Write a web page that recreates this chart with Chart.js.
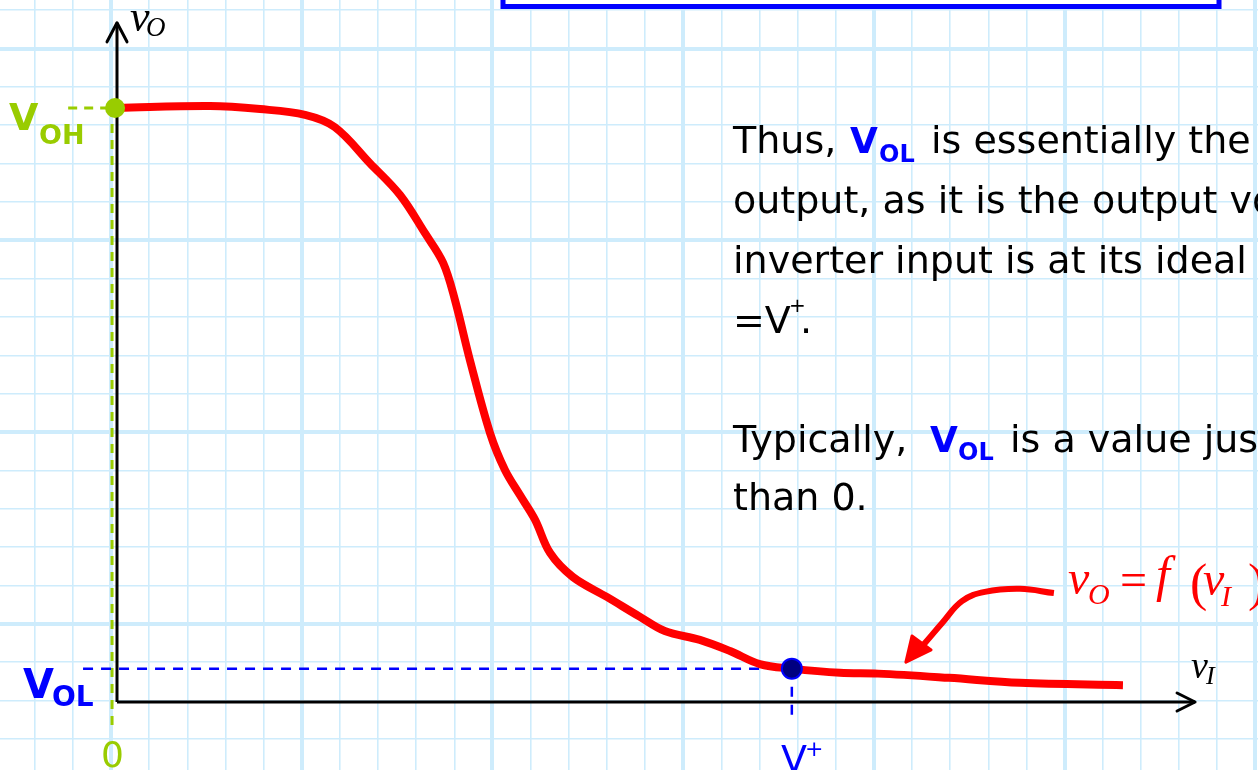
<!DOCTYPE html>
<html>
<head>
<meta charset="utf-8">
<script src="https://cdn.jsdelivr.net/npm/chart.js@4.4.0/dist/chart.umd.min.js"></script>
<style>
    html, body { margin: 0; padding: 0; background: #fff; overflow: hidden; }
    #contenedor { width: 1258px; height: 770px; position: relative; }
</style>
</head>
<body>
<div id="contenedor"><canvas id="graficaInversor"></canvas></div>
<script>
//////////////////////////////////////////////////////////////////////////////////////
/// DATOS (unidades = cuadros de la cuadricula, origen en el cruce de los ejes) /////
//////////////////////////////////////////////////////////////////////////////////////
const vIValores = [0.03, 2.44, 3.75, 4.93, 5.71, 6.63, 7.42, 8.07, 8.55, 8.86, 9.25, 9.78, 10.17,
    10.56, 10.96, 11.35, 11.95, 12.84, 13.71, 14.36, 15.28, 16.07, 16.85, 17.69, 18.95, 19.95,
    21.81, 23.67, 26.37];
const vOValores = [15.49, 15.54, 15.46, 15.31, 14.99, 14.05, 13.22, 12.23, 11.45, 10.48, 8.92, 7.01, 6.05,
    5.40, 4.75, 3.89, 3.26, 2.74, 2.22, 1.85, 1.62, 1.33, 0.99, 0.87, 0.76, 0.74,
    0.63, 0.50, 0.44];

// flecha roja que apunta a la curva
const flechaX = [24.56, 23.67, 22.75, 22.15, 21.63, 21.18, 20.79];
const flechaY = [2.84, 2.95, 2.87, 2.63, 2.06, 1.54, 1.15];
const puntaFlechaX = [20.68, 20.84, 21.34];
const puntaFlechaY = [1.04, 1.72, 1.36];

// valores notables
const V_OH = 15.49;
const V_OL = 0.87;
const V_MAS = 17.69;
const etiquetas = ["V", "OH", "OL", "0", "+"];

// ejes
const ejeXFin = 28.26;
const ejeYFin = 17.71;

//////////////////////////////////////////////////////////////////////////////////////
/// CUADRICULA /////////////////////////////////////////////////////////////////////
//////////////////////////////////////////////////////////////////////////////////////
const colorCuadricula = "rgb(206,236,252)";

function lineasX(scale) {
    const t = [];
    for (let k = -2; k <= 30; k++) t.push({ value: -0.157 + k, major: k % 5 === 0 });
    scale.ticks = t;
}
function lineasY(scale) {
    const t = [];
    for (let k = -1; k <= 18; k++) t.push({ value: 0.039 + k, major: ((k - 2) % 5 + 5) % 5 === 0 });
    scale.ticks = t;
}

const punto = (x, y) => ({ x: x, y: y });

//////////////////////////////////////////////////////////////////////////////////////
/// PLUGIN: fondo, puntas de flecha y textos ///////////////////////////////////////
//////////////////////////////////////////////////////////////////////////////////////
function escribir(ctx, txt, x, y, font, color) {
    ctx.font = font;
    ctx.fillStyle = color;
    ctx.textBaseline = "alphabetic";
    ctx.textAlign = "left";
    ctx.fillText(txt, x, y);
}

const pluginDibujo = {
    id: "dibujoInversor",
    beforeDraw(chart) {
        const ctx = chart.ctx;
        ctx.save();
        ctx.fillStyle = "#fff";
        ctx.fillRect(0, 0, chart.width, chart.height);
        ctx.restore();
    },
    afterDatasetsDraw(chart) {
        const ctx = chart.ctx;
        const sx = chart.scales.x, sy = chart.scales.y;
        ctx.save();
        // puntas de los ejes
        ctx.strokeStyle = "#000";
        ctx.lineWidth = 3;
        ctx.lineCap = "round";
        ctx.lineJoin = "round";
        const ty = { x: sx.getPixelForValue(0), y: sy.getPixelForValue(ejeYFin) };
        ctx.beginPath();
        ctx.moveTo(ty.x - 10, ty.y + 19);
        ctx.lineTo(ty.x, ty.y);
        ctx.lineTo(ty.x + 10, ty.y + 19);
        ctx.stroke();
        const tx = { x: sx.getPixelForValue(ejeXFin), y: sy.getPixelForValue(0) };
        ctx.beginPath();
        ctx.moveTo(tx.x - 18, tx.y - 9);
        ctx.lineTo(tx.x, tx.y);
        ctx.lineTo(tx.x - 18, tx.y + 9);
        ctx.stroke();
        // punta de la flecha roja
        ctx.fillStyle = "#ff0000";
        ctx.strokeStyle = "#ff0000";
        ctx.lineWidth = 3;
        ctx.beginPath();
        puntaFlechaX.forEach((v, i) => {
            const px = sx.getPixelForValue(v), py = sy.getPixelForValue(puntaFlechaY[i]);
            if (i === 0) ctx.moveTo(px, py); else ctx.lineTo(px, py);
        });
        ctx.closePath();
        ctx.fill();
        ctx.stroke();
        ctx.restore();
    },
    afterDraw(chart) {
        const ctx = chart.ctx;
        ctx.save();
        // recuadro azul de arriba
        ctx.fillStyle = "#fff";
        ctx.fillRect(503, -10, 716, 16.5);
        ctx.strokeStyle = "#0000ff";
        ctx.lineWidth = 5;
        ctx.strokeRect(503, -10, 716, 16.5);

        const sans = "'DejaVu Sans', sans-serif";
        const mate = "'Liberation Serif', serif";
        const verde = "#99cc00", azul = "#0000ff", rojo = "#ff0000";

        // etiquetas de los ejes
        escribir(ctx, "v", 130, 31, "italic 44px " + mate, "#000");
        escribir(ctx, "O", 146, 36, "italic 27px " + mate, "#000");
        escribir(ctx, "v", 1191, 678, "italic 38px " + mate, "#000");
        escribir(ctx, "I", 1206, 684, "italic 26px " + mate, "#000");

        // VOH, VOL, 0, V+
        escribir(ctx, etiquetas[0], 9, 130, "bold 38px " + sans, verde);
        escribir(ctx, etiquetas[1], 39, 144, "bold 27px " + sans, verde);
        escribir(ctx, etiquetas[0], 23, 698, "bold 40px " + sans, azul);
        escribir(ctx, etiquetas[2], 52, 706, "bold 28px " + sans, azul);
        escribir(ctx, etiquetas[3], 101, 767, "36px " + sans, verde);
        escribir(ctx, etiquetas[0], 781, 772, "38px " + sans, azul);
        escribir(ctx, etiquetas[4], 805, 756, "22px " + sans, azul);

        // vO = f(vI)
        escribir(ctx, "v", 1068, 594, "italic 48px " + mate, rojo);
        escribir(ctx, "O", 1088, 604, "italic 30px " + mate, rojo);
        escribir(ctx, "=", 1120, 596, "48px " + mate, rojo);
        escribir(ctx, "f", 1156, 591, "italic 50px " + mate, rojo);
        escribir(ctx, "(", 1190, 600, "52px " + mate, rojo);
        escribir(ctx, "v", 1203, 595, "italic 48px " + mate, rojo);
        escribir(ctx, "I", 1221, 606, "italic 30px " + mate, rojo);
        escribir(ctx, ")", 1248, 600, "52px " + mate, rojo);

        // parrafo
        const f = "38px " + sans;
        escribir(ctx, "Thus,", 733, 153, f, "#000");
        escribir(ctx, "V", 850, 153, "bold 36px " + sans, azul);
        escribir(ctx, "OL", 879, 162, "bold 24px " + sans, azul);
        escribir(ctx, "is essentially the ideal", 931, 153, f, "#000");
        escribir(ctx, "output, as it is the output voltage", 733, 213, f, "#000");
        escribir(ctx, "inverter input is at its ideal", 733, 273, f, "#000");
        escribir(ctx, "=V", 733, 333, f, "#000");
        escribir(ctx, "+", 789, 312, "20px " + sans, "#000");
        escribir(ctx, ".", 800, 333, f, "#000");
        escribir(ctx, "Typically,", 733, 452, f, "#000");
        escribir(ctx, "V", 930, 452, "bold 36px " + sans, azul);
        escribir(ctx, "OL", 958, 460, "bold 24px " + sans, azul);
        escribir(ctx, "is a value just", 1010, 452, f, "#000");
        escribir(ctx, "than 0.", 733, 510, f, "#000");
        ctx.restore();
    }
};

//////////////////////////////////////////////////////////////////////////////////////
/// GRAFICA ////////////////////////////////////////////////////////////////////////
//////////////////////////////////////////////////////////////////////////////////////
const curva = vIValores.map((v, i) => punto(v, vOValores[i]));
const flecha = flechaX.map((v, i) => punto(v, flechaY[i]));

new Chart(document.getElementById("graficaInversor"), {
    type: "scatter",
    data: {
        datasets: [
            { data: [punto(-0.05, V_OH)], pointRadius: 10, pointBackgroundColor: "#99cc00", pointBorderColor: "#99cc00", pointBorderWidth: 0 },
            { data: [punto(V_MAS, V_OL)], pointRadius: 10, pointBackgroundColor: "#000080", pointBorderColor: "#0000ff", pointBorderWidth: 2 },
            { data: curva, showLine: true, borderColor: "#ff0000", borderWidth: 8, pointRadius: 0, tension: 0.35, borderCapStyle: "butt", borderJoinStyle: "round" },
            { data: flecha, showLine: true, borderColor: "#ff0000", borderWidth: 6, pointRadius: 0, tension: 0.4 },
            { data: [punto(0, 0), punto(ejeXFin, 0)], showLine: true, borderColor: "#000", borderWidth: 3, pointRadius: 0 },
            { data: [punto(0, 0), punto(0, ejeYFin)], showLine: true, borderColor: "#000", borderWidth: 3, pointRadius: 0 },
            { data: [punto(-0.89, V_OL), punto(V_MAS, V_OL)], showLine: true, borderColor: "#0000ff", borderWidth: 2.5, borderDash: [10, 8], pointRadius: 0 },
            { data: [punto(V_MAS, V_OL), punto(V_MAS, -0.52)], showLine: true, borderColor: "#0000ff", borderWidth: 2.5, borderDash: [10, 8], pointRadius: 0 },
            { data: [punto(-0.13, V_OH), punto(-0.13, -0.68)], showLine: true, borderColor: "#99cc00", borderWidth: 3, borderDash: [9, 7], pointRadius: 0 },
            { data: [punto(-1.28, V_OH), punto(-0.05, V_OH)], showLine: true, borderColor: "#99cc00", borderWidth: 3, borderDash: [9, 7], pointRadius: 0 }
        ]
    },
    options: {
        responsive: true,
        maintainAspectRatio: false,
        animation: false,
        layout: { padding: 0, autoPadding: false },
        plugins: { legend: { display: false }, tooltip: { enabled: false } },
        scales: {
            x: {
                type: "linear", min: -3.067, max: 29.91,
                ticks: { display: false },
                border: { display: false },
                grid: { drawTicks: false, color: colorCuadricula, lineWidth: c => (c.tick && c.tick.major ? 4 : 1.6) },
                afterBuildTicks: lineasX
            },
            y: {
                type: "linear", min: -1.773, max: 18.305,
                ticks: { display: false },
                border: { display: false },
                grid: { drawTicks: false, color: colorCuadricula, lineWidth: c => (c.tick && c.tick.major ? 4 : 1.6) },
                afterBuildTicks: lineasY
            }
        }
    },
    plugins: [pluginDibujo]
});
</script>
</body>
</html>
